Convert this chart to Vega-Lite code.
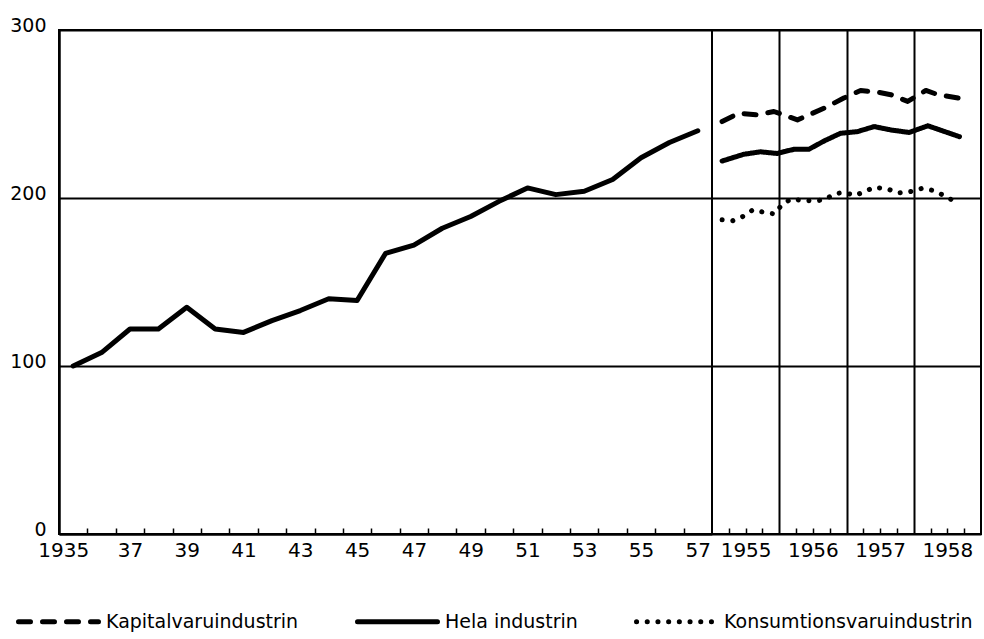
{
  "$schema": "https://vega.github.io/schema/vega-lite/v6.json",
  "background": "white",
  "padding": {"left": 5, "top": 15, "right": 4, "bottom": 5},
  "spacing": 0,
  "bounds": "flush",
  "config": {
    "font": "DejaVu Sans",
    "view": {"stroke": "black", "strokeWidth": 2},
    "axis": {"labelColor": "black", "labelFont": "DejaVu Sans", "domainColor": "black", "tickColor": "black", "gridColor": "black", "gridOpacity": 1, "title": null}
  },
  "resolve": {"scale": {"strokeDash": "shared", "strokeWidth": "shared"}, "legend": {"strokeDash": "shared"}},
  "datasets": {
    "annual": [
      {"year": 1935, "index": 100}, {"year": 1936, "index": 108}, {"year": 1937, "index": 122},
      {"year": 1938, "index": 122}, {"year": 1939, "index": 135}, {"year": 1940, "index": 122},
      {"year": 1941, "index": 120}, {"year": 1942, "index": 127}, {"year": 1943, "index": 133},
      {"year": 1944, "index": 140}, {"year": 1945, "index": 139}, {"year": 1946, "index": 167},
      {"year": 1947, "index": 172}, {"year": 1948, "index": 182}, {"year": 1949, "index": 189},
      {"year": 1950, "index": 198}, {"year": 1951, "index": 206}, {"year": 1952, "index": 202},
      {"year": 1953, "index": 204}, {"year": 1954, "index": 211}, {"year": 1955, "index": 224},
      {"year": 1956, "index": 233}, {"year": 1957, "index": 240}
    ],
    "periodic": [
      {"t": 1955.15, "series": "Hela industrin", "value": 222},
      {"t": 1955.47, "series": "Hela industrin", "value": 226},
      {"t": 1955.72, "series": "Hela industrin", "value": 227.5},
      {"t": 1955.97, "series": "Hela industrin", "value": 226.5},
      {"t": 1956.22, "series": "Hela industrin", "value": 229},
      {"t": 1956.44, "series": "Hela industrin", "value": 229},
      {"t": 1956.67, "series": "Hela industrin", "value": 234},
      {"t": 1956.91, "series": "Hela industrin", "value": 238.5},
      {"t": 1957.16, "series": "Hela industrin", "value": 239.5},
      {"t": 1957.41, "series": "Hela industrin", "value": 242.5},
      {"t": 1957.66, "series": "Hela industrin", "value": 240.5},
      {"t": 1957.93, "series": "Hela industrin", "value": 239},
      {"t": 1958.21, "series": "Hela industrin", "value": 243},
      {"t": 1958.68, "series": "Hela industrin", "value": 236.5},
      {"t": 1955.15, "series": "Kapitalvaruindustrin", "value": 245.5},
      {"t": 1955.40, "series": "Kapitalvaruindustrin", "value": 250.5},
      {"t": 1955.67, "series": "Kapitalvaruindustrin", "value": 249.5},
      {"t": 1955.92, "series": "Kapitalvaruindustrin", "value": 251.5},
      {"t": 1956.27, "series": "Kapitalvaruindustrin", "value": 246.5},
      {"t": 1956.67, "series": "Kapitalvaruindustrin", "value": 253.5},
      {"t": 1956.96, "series": "Kapitalvaruindustrin", "value": 259.5},
      {"t": 1957.21, "series": "Kapitalvaruindustrin", "value": 264},
      {"t": 1957.46, "series": "Kapitalvaruindustrin", "value": 263},
      {"t": 1957.66, "series": "Kapitalvaruindustrin", "value": 261.5},
      {"t": 1957.91, "series": "Kapitalvaruindustrin", "value": 257.5},
      {"t": 1958.18, "series": "Kapitalvaruindustrin", "value": 264},
      {"t": 1958.36, "series": "Kapitalvaruindustrin", "value": 261.5},
      {"t": 1958.66, "series": "Kapitalvaruindustrin", "value": 259.5},
      {"t": 1955.15, "series": "Konsumtionsvaruindustrin", "value": 187},
      {"t": 1955.31, "series": "Konsumtionsvaruindustrin", "value": 186.5},
      {"t": 1955.46, "series": "Konsumtionsvaruindustrin", "value": 189},
      {"t": 1955.61, "series": "Konsumtionsvaruindustrin", "value": 193},
      {"t": 1955.77, "series": "Konsumtionsvaruindustrin", "value": 191.5},
      {"t": 1955.93, "series": "Konsumtionsvaruindustrin", "value": 190.5},
      {"t": 1956.03, "series": "Konsumtionsvaruindustrin", "value": 195.5},
      {"t": 1956.17, "series": "Konsumtionsvaruindustrin", "value": 199.4},
      {"t": 1956.34, "series": "Konsumtionsvaruindustrin", "value": 198.6},
      {"t": 1956.52, "series": "Konsumtionsvaruindustrin", "value": 198.2},
      {"t": 1956.68, "series": "Konsumtionsvaruindustrin", "value": 199},
      {"t": 1956.81, "series": "Konsumtionsvaruindustrin", "value": 202.4},
      {"t": 1956.97, "series": "Konsumtionsvaruindustrin", "value": 203.4},
      {"t": 1957.12, "series": "Konsumtionsvaruindustrin", "value": 201.4},
      {"t": 1957.27, "series": "Konsumtionsvaruindustrin", "value": 203.8},
      {"t": 1957.41, "series": "Konsumtionsvaruindustrin", "value": 206.4},
      {"t": 1957.61, "series": "Konsumtionsvaruindustrin", "value": 205.4},
      {"t": 1957.77, "series": "Konsumtionsvaruindustrin", "value": 203},
      {"t": 1957.95, "series": "Konsumtionsvaruindustrin", "value": 203.8},
      {"t": 1958.13, "series": "Konsumtionsvaruindustrin", "value": 205.8},
      {"t": 1958.30, "series": "Konsumtionsvaruindustrin", "value": 204.4},
      {"t": 1958.47, "series": "Konsumtionsvaruindustrin", "value": 201},
      {"t": 1958.65, "series": "Konsumtionsvaruindustrin", "value": 197}
    ]
  },
  "hconcat": [
    {
      "width": 653,
      "height": 504,
      "data": {"name": "annual"},
      "mark": {"type": "line", "color": "black", "strokeWidth": 5, "strokeJoin": "round", "strokeCap": "round"},
      "encoding": {
        "x": {
          "field": "year", "type": "quantitative",
          "scale": {"domain": [1934.5, 1957.5], "nice": false, "zero": false},
          "axis": {
            "values": [1935, 1935.5, 1936.5, 1937, 1937.5, 1938.5, 1939, 1939.5, 1940.5, 1941, 1941.5, 1942.5, 1943, 1943.5, 1944.5, 1945, 1945.5, 1946.5, 1947, 1947.5, 1948.5, 1949, 1949.5, 1950.5, 1951, 1951.5, 1952.5, 1953, 1953.5, 1954.5, 1955, 1955.5, 1956.5, 1957],
            "labelExpr": "datum.value % 1 != 0 ? '' : (datum.value == 1935 ? '1935' : slice(toString(datum.value), 2))",
            "labelOffset": {"condition": {"test": "datum.value == 1935", "value": -10}, "value": 0},
            "tickOpacity": {"condition": {"test": "datum.value % 1 == 0", "value": 0}, "value": 1},
            "tickSize": -6, "tickWidth": 1.5,
            "grid": false, "domainWidth": 2,
            "labelFontSize": 20, "labelPadding": 12, "labelBaseline": "top",
            "labelFlush": false, "labelOverlap": false
          }
        },
        "y": {
          "field": "index", "type": "quantitative",
          "scale": {"domain": [0, 300], "nice": false},
          "axis": {
            "values": [0, 100, 200, 300], "ticks": false, "domainWidth": 2.5,
            "grid": true, "gridWidth": 2,
            "labelFontSize": 19, "labelPadding": 13, "labelBaseline": "alphabetic", "labelOffset": 1,
            "minExtent": 53, "maxExtent": 53, "labelFlush": false
          }
        }
      }
    },
    {
      "width": 269,
      "height": 504,
      "data": {"name": "periodic"},
      "mark": {"type": "line", "color": "black", "strokeJoin": "round", "strokeCap": "round"},
      "encoding": {
        "x": {
          "field": "t", "type": "quantitative",
          "scale": {"domain": [1955, 1959], "nice": false, "zero": false},
          "axis": {
            "values": [1955.25, 1955.5, 1955.75, 1956, 1956.25, 1956.5, 1956.75, 1957, 1957.25, 1957.5, 1957.75, 1958, 1958.25, 1958.5, 1958.75],
            "labelExpr": "datum.value % 1 == 0.5 ? toString(floor(datum.value)) : ''",
            "tickOpacity": {"condition": {"test": "datum.value % 1 == 0", "value": 0}, "value": 1},
            "tickSize": -6, "tickWidth": 1.5,
            "grid": true, "gridWidth": 2,
            "gridOpacity": {"condition": {"test": "datum.value % 1 == 0", "value": 1}, "value": 0},
            "domainWidth": 2,
            "labelFontSize": 20, "labelPadding": 12, "labelBaseline": "top",
            "labelFlush": false, "labelOverlap": false
          }
        },
        "y": {
          "field": "value", "type": "quantitative",
          "scale": {"domain": [0, 300], "nice": false},
          "axis": {
            "values": [100, 200, 300], "labels": false, "ticks": false, "domain": false,
            "grid": true, "gridWidth": 2, "minExtent": 0, "maxExtent": 0
          }
        },
        "strokeWidth": {
          "field": "series", "type": "nominal",
          "scale": {
            "domain": ["Kapitalvaruindustrin", "Hela industrin", "Konsumtionsvaruindustrin"],
            "range": [5, 5, 6.5]
          },
          "legend": null
        },
        "strokeDash": {
          "field": "series", "type": "nominal",
          "scale": {
            "domain": ["Kapitalvaruindustrin", "Hela industrin", "Konsumtionsvaruindustrin"],
            "range": [[12, 12], [1, 0], [0.1, 10.6]]
          },
          "legend": {
            "orient": "none", "legendX": -43, "legendY": 549,
            "direction": "horizontal", "title": null, "padding": 0,
            "symbolType": "stroke", "symbolSize": 6400, "symbolStrokeWidth": 4,
            "symbolStrokeColor": "black",
            "labelFontSize": 19, "labelFont": "DejaVu Sans", "labelColor": "black",
            "labelOffset": 5, "columnPadding": 48, "labelLimit": 400,
            "encode": {"symbols": {"update": {"strokeCap": {"value": "round"}}}}
          }
        }
      }
    }
  ]
}
